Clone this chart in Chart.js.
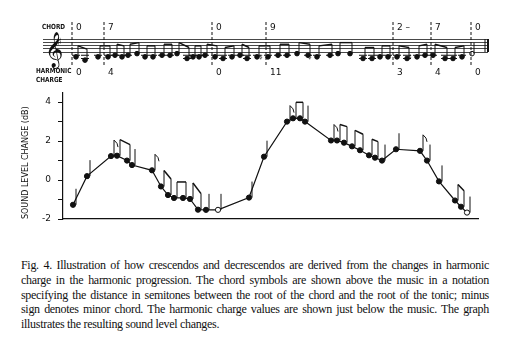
<!DOCTYPE html>
<html>
<head>
<meta charset="utf-8">
<script src="https://cdn.jsdelivr.net/npm/chart.js@4.4.0/dist/chart.umd.min.js"></script>
<style>
  body { margin: 0; background: #fff; width: 505px; height: 351px; overflow: hidden; position: relative; color: #111; }
  #staffBox { position: absolute; left: 0; top: 0; width: 505px; height: 90px; }
  #plotBox { position: absolute; left: 0; top: 80px; width: 505px; height: 155px; }
  .lbl { position: absolute; font-family: "DejaVu Sans", sans-serif; font-weight: bold; font-size: 7px; line-height: 8px; transform: scaleX(0.82); transform-origin: left top; }
  #caption { position: absolute; left: 21px; top: 258px; width: 468px; font-family: "Liberation Serif", serif; font-size: 12px; letter-spacing: -0.3px; line-height: 14.8px; color: #111; }
  #caption .j { text-align: justify; text-align-last: justify; white-space: normal; }
</style>
</head>
<body>
<div id="staffBox"><canvas id="staffChart"></canvas></div>
<div id="plotBox"><canvas id="levelChart"></canvas></div>
<div class="lbl" style="left:42px;top:23px">CHORD</div>
<div class="lbl" style="left:36px;top:67px">HARMONIC</div>
<div class="lbl" style="left:36px;top:76px">CHARGE</div>
<div id="caption">
  <div class="j">Fig. 4. Illustration of how crescendos and decrescendos are derived from the changes in harmonic</div>
  <div class="j">charge in the harmonic progression. The chord symbols are shown above the music in a notation</div>
  <div class="j">specifying the distance in semitones between the root of the chord and the root of the tonic; minus</div>
  <div class="j">sign denotes minor chord. The harmonic charge values are shown just below the music. The graph</div>
  <div>illustrates the resulting sound level changes.</div>
</div>
<script>
// sound level curve (time position, dB)
const soundX = [1.0, 2.4, 4.8, 5.4, 6.4, 6.9, 8.9, 9.8, 10.5, 11.1, 12.0, 12.7, 13.5, 14.3, 15.5, 18.6,
  20.1, 22.4, 23.0, 23.7, 24.2, 26.8, 27.4, 28.1, 28.9, 29.7, 30.6, 31.2, 31.9, 33.3, 35.7, 36.4, 37.6, 39.2, 39.8, 40.4];
const soundDb = [-1.27, 0.2, 1.23, 1.25, 1.0, 0.77, 0.5, -0.33, -0.77, -0.92, -0.92, -0.97, -1.52, -1.53, -1.53, -0.9,
  1.2, 3.0, 3.17, 3.17, 3.0, 2.03, 2.03, 1.92, 1.73, 1.53, 1.27, 1.15, 1.0, 1.58, 1.5, 1.0, -0.07, -1.05, -1.37, -1.67];
// q = plain stem, f = flag, b = beamed with neighbour, h = half note (open head)
const stemKind = ['q','q','f','b','b','q','f','b','b','b','b','b','b','q','h','q',
  'q','f','b','b','q','f','b','b','b','b','b','b','q','q','f','q','q','b','b','h'];
const yTicks = [-2, -1, 0, 1, 2, 3, 4];

// score above the graph (position along staff, pitch in staff steps, 0 = bottom line)
const chordPos = [29, 61, 169, 223, 350, 388, 428];
const chordLabels = ['0', '7', '0', '9', '2 \u2013', '7', '0'];
const chargeLabels = ['0', '4', '0', '11', '3', '4', '0'];
const staffX = [33, 42, 55, 65, 72, 79, 85, 94, 102, 110, 119, 127, 134, 144, 150, 156, 162, 172, 180, 189, 197, 204, 214,
  225, 235, 244, 254, 265, 274, 287, 295, 307, 320, 329, 337, 345, 354, 364, 374, 382, 390, 402, 410, 419, 429];
const staffPitch = [-3, -5, -3, -3, -2, -3, -2, -1, -3, -3, -2, -2, -1, -4, -3, -3, -2, -3, -4, -3, -2, -4, -3,
  -3, -2, -2, -1, -2, -3, -2, -1, -1, -4, -4, -3, -3, -3, -4, -3, -2, -2, -4, -4, -3, -1];
const sharpIdx = [23, 28, 38];
const staffLines = [0, 2, 4, 6, 8];

const ink = '#111';

const scorePlugin = {
  id: 'score',
  afterDraw(chart) {
    const c = chart.ctx, xs = chart.scales.x, ys = chart.scales.y;
    const pts = chart.getDatasetMeta(0).data;
    c.save();
    c.strokeStyle = ink; c.fillStyle = ink; c.lineWidth = 1;
    // stems + ledger lines
    pts.forEach((p, i) => {
      c.beginPath(); c.moveTo(p.x + 2, p.y); c.lineTo(p.x + 2, p.y - 11); c.stroke();
      for (let s = -2; s >= staffPitch[i]; s -= 2) {
        const ly = ys.getPixelForValue(s);
        c.beginPath(); c.moveTo(p.x - 4, ly); c.lineTo(p.x + 4, ly); c.stroke();
      }
    });
    // beams between neighbouring pairs
    c.lineWidth = 1.4;
    for (let i = 0; i + 1 < pts.length; i += 2) {
      if (staffX[i + 1] - staffX[i] > 14) { i--; continue; }
      c.beginPath(); c.moveTo(pts[i].x + 2, pts[i].y - 11); c.lineTo(pts[i + 1].x + 2, pts[i + 1].y - 11); c.stroke();
    }
    c.lineWidth = 1;
    c.font = '8px "DejaVu Sans"';
    sharpIdx.forEach(i => c.fillText('\u266F', pts[i].x - 9, pts[i].y + 3));
    // dashed chord markers and labels
    c.setLineDash([3, 2]);
    chordPos.forEach(v => {
      const x = xs.getPixelForValue(v);
      c.beginPath(); c.moveTo(x, 22); c.lineTo(x, 67); c.stroke();
    });
    c.setLineDash([]);
    c.font = '9px "DejaVu Sans"';
    c.textBaseline = 'middle';
    chordPos.forEach((v, i) => c.fillText(chordLabels[i], xs.getPixelForValue(v) + 4, 28));
    chargeLabels.forEach((t, i) => c.fillText(t, xs.getPixelForValue(chordPos[i]) + 4, 73));
    // clef, key signature, final barline
    const top = ys.getPixelForValue(8), bot = ys.getPixelForValue(0);
    c.font = '31px "DejaVu Sans"';
    c.textBaseline = 'alphabetic';
    c.fillText('\uD834\uDD1E', xs.left + 2, bot + 8);
    c.font = '10px "DejaVu Sans"';
    c.fillText('\u266F', xs.left + 14, top + 6);
    c.beginPath(); c.moveTo(xs.right - 3, top); c.lineTo(xs.right - 3, bot); c.stroke();
    c.lineWidth = 2;
    c.beginPath(); c.moveTo(xs.right, top); c.lineTo(xs.right, bot); c.stroke();
    c.restore();
  }
};

new Chart(document.getElementById('staffChart'), {
  type: 'scatter',
  data: {
    datasets: [{
      data: staffX.map((x, i) => ({ x: x, y: staffPitch[i] })),
      pointRadius: 2.3,
      pointBackgroundColor: staffX.map((x, i) => i === staffX.length - 1 ? '#fff' : ink),
      pointBorderColor: ink,
      pointBorderWidth: 1,
      clip: false
    }]
  },
  options: {
    animation: false,
    responsive: true,
    maintainAspectRatio: false,
    layout: { padding: { left: 43, right: 17, top: 19.5, bottom: 21.75 } },
    plugins: { legend: { display: false }, tooltip: { enabled: false } },
    scales: {
      x: { type: 'linear', min: 0, max: 445, display: false },
      y: {
        min: -10, max: 20,
        afterBuildTicks: s => { s.ticks = staffLines.map(v => ({ value: v })); },
        afterFit: s => { s.width = 0; },
        ticks: { display: false },
        grid: { color: '#333', lineWidth: 0.9, drawTicks: false },
        border: { display: false }
      }
    }
  },
  plugins: [scorePlugin]
});

const stemPlugin = {
  id: 'stems',
  afterDatasetsDraw(chart) {
    const c = chart.ctx;
    const pts = chart.getDatasetMeta(0).data;
    c.save();
    c.strokeStyle = ink; c.lineWidth = 1;
    pts.forEach((p, i) => {
      const sx = p.x + 3;
      c.beginPath(); c.moveTo(sx, p.y); c.lineTo(sx, p.y - 16); c.stroke();
      if (stemKind[i] === 'f') {
        c.beginPath(); c.moveTo(sx, p.y - 16); c.quadraticCurveTo(sx + 4, p.y - 13, sx + 4, p.y - 9); c.stroke();
      }
    });
    c.lineWidth = 1.5;
    for (let i = 0; i + 1 < pts.length; i++) {
      if (stemKind[i] === 'b' && stemKind[i + 1] === 'b') {
        c.beginPath(); c.moveTo(pts[i].x + 3, pts[i].y - 16); c.lineTo(pts[i + 1].x + 3, pts[i + 1].y - 16); c.stroke();
        i++;
      }
    }
    c.restore();
  }
};

new Chart(document.getElementById('levelChart'), {
  type: 'line',
  data: {
    datasets: [{
      data: soundX.map((x, i) => ({ x: x, y: soundDb[i] })),
      borderColor: ink,
      borderWidth: 1.2,
      pointRadius: 2.6,
      pointBorderWidth: 1,
      pointBorderColor: ink,
      pointBackgroundColor: stemKind.map(k => k === 'h' ? '#fff' : ink),
      tension: 0
    }]
  },
  options: {
    animation: false,
    responsive: true,
    maintainAspectRatio: false,
    layout: { padding: { left: 0, right: 27, top: 9, bottom: 0 } },
    plugins: { legend: { display: false }, tooltip: { enabled: false } },
    scales: {
      x: {
        type: 'linear', min: 0, max: 41.5,
        afterFit: s => { s.height = 16; },
        ticks: { display: false },
        grid: { display: false },
        border: { display: true, color: ink, width: 1.2 }
      },
      y: {
        min: -2, max: 4.5,
        afterBuildTicks: s => { s.ticks = yTicks.map(v => ({ value: v })); },
        afterFit: s => { s.width = 63; },
        ticks: {
          color: ink, padding: 7,
          font: { family: 'DejaVu Sans', size: 9 },
          callback: v => (v % 2 === 0 ? String(v) : '')
        },
        grid: { drawOnChartArea: false, drawTicks: true, tickLength: 5, color: ink },
        border: { display: true, color: ink, width: 1.2 },
        title: {
          display: true, text: 'SOUND LEVEL CHANGE (dB)', align: 'start', color: ink,
          font: { family: 'DejaVu Sans', size: 8 },
          padding: { top: 21, bottom: 0 }
        }
      }
    }
  },
  plugins: [stemPlugin]
});
</script>
</body>
</html>
